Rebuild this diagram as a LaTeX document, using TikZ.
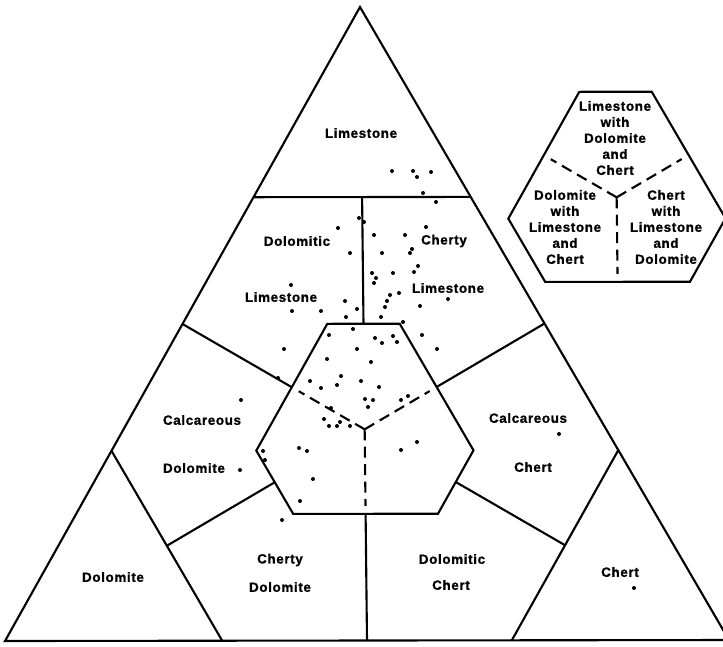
\documentclass[tikz,border=0pt]{standalone}
\usepackage{fontspec}
\setmainfont{Liberation Sans}[LetterSpace=5, BoldFeatures={FakeBold=1.2}]
\usetikzlibrary{calc}

\begin{document}
\begin{tikzpicture}[
            x=0.25mm, y=-0.25mm,
            line width=1.5pt,
            rocktext/.style={font=\bfseries\fontsize{9.5}{11.4}\selectfont, align=center, inner sep=0pt},
            divider/.style={dash pattern=on 2.75mm off 1.6mm, shorten >=2mm},
            point/.style={radius=0.5mm}
        ]
        \useasboundingbox (0,0) rectangle (723,646);

        \coordinate (lime) at (360,7);
        \coordinate (dolo) at (5,641);
        \coordinate (chert) at (729,640);

        % corner fields at 70 per cent
        \coordinate (l1) at (barycentric cs:lime=.7,dolo=.3,chert=0);
        \coordinate (l2) at (barycentric cs:lime=.7,dolo=0,chert=.3);
        \coordinate (d1) at (barycentric cs:lime=.3,dolo=.7,chert=0);
        \coordinate (d2) at (barycentric cs:lime=0,dolo=.7,chert=.3);
        \coordinate (c1) at (barycentric cs:lime=.3,dolo=0,chert=.7);
        \coordinate (c2) at (barycentric cs:lime=0,dolo=.3,chert=.7);

        % central hexagon, 20 to 50 per cent
        \coordinate (h1) at (barycentric cs:lime=.5,dolo=.3,chert=.2);
        \coordinate (h2) at (barycentric cs:lime=.5,dolo=.2,chert=.3);
        \coordinate (h3) at (barycentric cs:lime=.3,dolo=.2,chert=.5);
        \coordinate (h4) at (barycentric cs:lime=.2,dolo=.3,chert=.5);
        \coordinate (h5) at (barycentric cs:lime=.2,dolo=.5,chert=.3);
        \coordinate (h6) at (barycentric cs:lime=.3,dolo=.5,chert=.2);
        \coordinate (hc) at (barycentric cs:lime=.333,dolo=.333,chert=.333);
        \coordinate (hl) at (barycentric cs:lime=.4,dolo=.4,chert=.2);
        \coordinate (hr) at (barycentric cs:lime=.4,dolo=.2,chert=.4);
        \coordinate (hb) at (barycentric cs:lime=.2,dolo=.4,chert=.4);
        \coordinate (ht) at (barycentric cs:lime=.5,dolo=.25,chert=.25);
        \coordinate (hdl) at (barycentric cs:lime=.25,dolo=.5,chert=.25);
        \coordinate (hdr) at (barycentric cs:lime=.25,dolo=.25,chert=.5);

        % ends of the dividing lines
        \coordinate (e-top) at (barycentric cs:lime=.7,dolo=.15,chert=.15);
        \coordinate (e-left) at (barycentric cs:lime=.5,dolo=.5,chert=0);
        \coordinate (e-right) at (barycentric cs:lime=.5,dolo=0,chert=.5);
        \coordinate (e-bottom) at (barycentric cs:lime=0,dolo=.5,chert=.5);
        \coordinate (e-dl) at (barycentric cs:lime=.15,dolo=.7,chert=.15);
        \coordinate (e-dr) at (barycentric cs:lime=.15,dolo=.15,chert=.7);

        % key hexagon, moved up to the right
        \foreach \n in {h1,h2,h3,h4,h5,h6,hc,hl,hr,hb}
            \coordinate (k\n) at ($(\n)+(252,-232)$);

        \draw (lime) -- (dolo) -- (chert) -- cycle;
        \draw (l1) -- (l2);
        \draw (d1) -- (d2);
        \draw (c1) -- (c2);

        \draw (h1) -- (h2) -- (h3) -- (h4) -- (h5) -- (h6) -- cycle;
        \draw (e-top) -- (ht);
        \draw (e-left) -- (hl);
        \draw (e-right) -- (hr);
        \draw (hb) -- (e-bottom);
        \draw (hdl) -- (e-dl);
        \draw (hdr) -- (e-dr);

        \draw[divider] (hc) -- (hl);
        \draw[divider] (hc) -- (hr);
        \draw[divider] (hc) -- (hb);

        \draw (kh1) -- (kh2) -- (kh3) -- (kh4) -- (kh5) -- (kh6) -- cycle;
        \draw[divider] (khc) -- (khl);
        \draw[divider] (khc) -- (khr);
        \draw[divider] (khc) -- (khb);

        \node[rocktext] (t-lime) at (361,133) {Limestone};
        \node[rocktext] (t-dololime1) at (297,241) {Dolomitic};
        \node[rocktext] (t-dololime2) at (281,297) {Limestone};
        \node[rocktext] (t-chertlime1) at (444,241) {Cherty};
        \node[rocktext] (t-chertlime2) at (448,288) {Limestone};
        \node[rocktext] (t-calcdolo1) at (202,420) {Calcareous};
        \node[rocktext] (t-calcdolo2) at (194,468) {Dolomite};
        \node[rocktext] (t-calcchert1) at (528,418) {Calcareous};
        \node[rocktext] (t-calcchert2) at (533,467) {Chert};
        \node[rocktext] (t-dolo) at (113,577) {Dolomite};
        \node[rocktext] (t-chertdolo1) at (280,560) {Cherty};
        \node[rocktext] (t-chertdolo2) at (280,587) {Dolomite};
        \node[rocktext] (t-dolochert1) at (452,559) {Dolomitic};
        \node[rocktext] (t-dolochert2) at (451,585) {Chert};
        \node[rocktext] (t-chert) at (620,572) {Chert};

        \node[rocktext] (k-lime) at (615,138) {Limestone\\with\\Dolomite\\and\\Chert};
        \node[rocktext] (k-dolo) at (565,227) {Dolomite\\with\\Limestone\\and\\Chert};
        \node[rocktext] (k-chert) at (666,227) {Chert\\with\\Limestone\\and\\Dolomite};

        % samples
        \foreach \x/\y in {392/171, 413/171, 417/177, 431/172, 423/193, 436/202,
                359/218, 364/222, 338/228, 374/235, 405/235, 426/227, 412/249, 410/253,
                350/253, 382/253, 372/273, 376/278, 374/283, 393/273, 418/266, 414/272,
                291/285, 399/293, 390/295, 387/301, 385/307, 345/301, 292/311, 321/311,
                357/309, 420/306, 448/299, 346/317, 381/317, 403/322,
                329/335, 353/329, 375/338, 382/343, 393/336, 397/342, 422/335, 437/349,
                284/349, 357/349, 327/359, 371/362, 341/376, 310/381, 321/388, 337/385,
                361/381, 379/387, 278/378, 365/399, 373/400, 368/407, 401/400, 408/396,
                331/408, 324/419, 329/426, 337/426, 340/422, 350/426, 299/448, 307/451,
                263/451, 265/460, 401/450, 417/442, 313/479, 300/501, 282/520, 241/400,
                240/470, 559/434, 634/588}
            \fill (\x,\y) circle[point];
\end{tikzpicture}
\end{document}
